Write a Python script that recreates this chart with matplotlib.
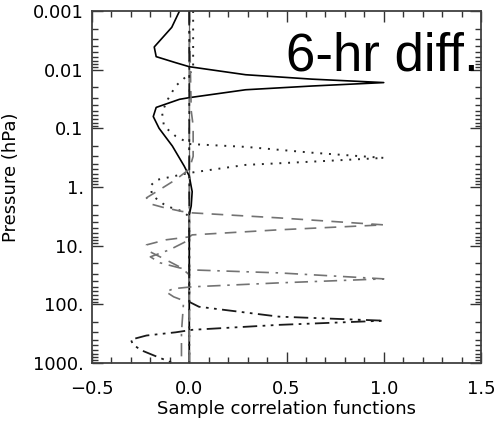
import matplotlib
matplotlib.use('Agg')
import matplotlib.pyplot as plt
import numpy as np
from matplotlib.ticker import MultipleLocator, FixedLocator, NullFormatter

# sample correlation functions, (pressure hPa, correlation)
p_solid = [0.001, 0.0019, 0.0041, 0.006, 0.0076, 0.0089, 0.0122, 0.0145, 0.0166,
           0.019, 0.022, 0.030, 0.032, 0.044, 0.063, 0.1, 0.2, 0.44, 0.65, 1.2,
           2.1, 3.0, 1000.]
r_solid = [-0.05, -0.09, -0.18, -0.17, -0.07, 0.0, 0.29, 0.63, 1.0,
           0.63, 0.29, 0.0, -0.05, -0.17, -0.185, -0.155, -0.087, -0.026, 0.0, 0.015,
           0.01, 0.0, 0.0]

p_dot = [0.001, 0.01, 0.013, 0.019, 0.032, 0.053, 0.092, 0.136, 0.17, 0.185,
         0.207, 0.26, 0.319, 0.37, 0.42, 0.575, 0.76, 0.96, 1.4, 2.1, 2.6, 3.2, 1000.]
r_dot = [0.02, 0.02, -0.015, -0.07, -0.11, -0.14, -0.13, -0.07, -0.015, 0.0,
         0.29, 0.63, 1.0, 0.63, 0.29, 0.0, -0.17, -0.2, -0.19, -0.12, -0.035, 0.0, 0.0]

p_dash = [0.001, 0.05, 0.09, 0.3, 0.5, 0.75, 1.1, 1.53, 1.94, 2.2, 2.6, 2.76,
          3.36, 4.42, 5.37, 6.55, 7.08, 7.95, 9.7, 12.8, 17.4, 23.9, 31.4, 1000.]
r_dash = [0.0, 0.01, 0.02, 0.02, 0.0, -0.07, -0.15, -0.22, -0.2, -0.14, -0.04, 0.015,
          0.46, 1.0, 0.46, 0.015, 0.0, -0.12, -0.22, -0.2, -0.12, -0.04, 0.0, 0.0]

p_dashdot = [0.001, 7.96, 11.7, 15.5, 19.6, 23.9, 25.8, 29.1, 36.8, 43.1, 50.3,
             54., 61., 74.5, 83.8, 100., 300., 1000.]
r_dashdot = [0.0, 0.0, -0.1, -0.2, -0.15, -0.05, 0.0, 0.46, 1.0, 0.46, 0.015,
             -0.08, -0.12, -0.08, -0.04, -0.03, -0.04, -0.04]

p_dd = [0.001, 70., 90.8, 110., 162., 190., 224., 272., 300., 340., 400., 480.,
        600., 725., 955., 1000.]
r_dd = [0.0, 0.0, 0.0, 0.05, 0.46, 1.0, 0.46, 0.015, -0.07, -0.22, -0.3, -0.29,
        -0.25, -0.19, -0.1, -0.09]

ylabels = ['0.001', '0.01', '0.1', '1.', '10.', '100.', '1000.']
yticks = [0.001, 0.01, 0.1, 1., 10., 100., 1000.]
xticks = [-0.5, 0.0, 0.5, 1.0, 1.5]

plt.rcParams['font.family'] = 'DejaVu Sans'

fig = plt.figure(figsize=(4.99, 4.26), dpi=100)
ax = fig.add_axes([92/499, 1-363/426, 389/499, 352/426])

ax.axvline(0, color='0.4', lw=0.9, zorder=1)

ax.plot(r_solid, p_solid, color='k', lw=1.2, ls='-')
ax.plot(r_dot, p_dot, color='0.15', lw=1.4, ls=(0, (1, 3.5)))
ax.plot(r_dash, p_dash, color='0.45', lw=1.2, ls=(0, (7, 5)))
ax.plot(r_dashdot, p_dashdot, color='0.45', lw=1.2, ls=(0, (8, 4, 1.5, 4)))
ax.plot(r_dd, p_dd, color='0.1', lw=1.3, ls=(0, (8, 3, 1.5, 3, 1.5, 3)))

ax.set_yscale('log')
ax.set_ylim(1000, 0.001)
ax.set_xlim(-0.5, 1.5)

ax.yaxis.set_major_locator(FixedLocator(yticks))
ax.set_yticklabels(ylabels)
ax.yaxis.set_minor_locator(matplotlib.ticker.LogLocator(base=10, subs=np.arange(2, 10)))
ax.yaxis.set_minor_formatter(NullFormatter())
ax.set_xticks(xticks)
ax.set_xticklabels(['\u22120.5', '0.0', '0.5', '1.0', '1.5'])
ax.xaxis.set_minor_locator(MultipleLocator(0.1))

ax.tick_params(which='both', direction='in', top=True, right=True, color='0.2', width=1)
ax.tick_params(which='major', length=8, labelsize=13)
ax.tick_params(which='minor', length=4)
ax.tick_params(axis='x', pad=12)
ax.tick_params(axis='y', pad=6)
for s in ax.spines.values():
    s.set_linewidth(1.3)
    s.set_color('0.25')

ax.set_xlabel('Sample correlation functions', fontsize=13, labelpad=2)
ax.set_ylabel('Pressure (hPa)', fontsize=13)
ax.yaxis.set_label_coords(-0.186, 0.528)

ax.text(0.995, 0.832, '6-hr diff.', transform=ax.transAxes, ha='right', va='baseline',
        fontsize=38, family='Liberation Sans', color='k')

fig.savefig('out.png', dpi=100)
